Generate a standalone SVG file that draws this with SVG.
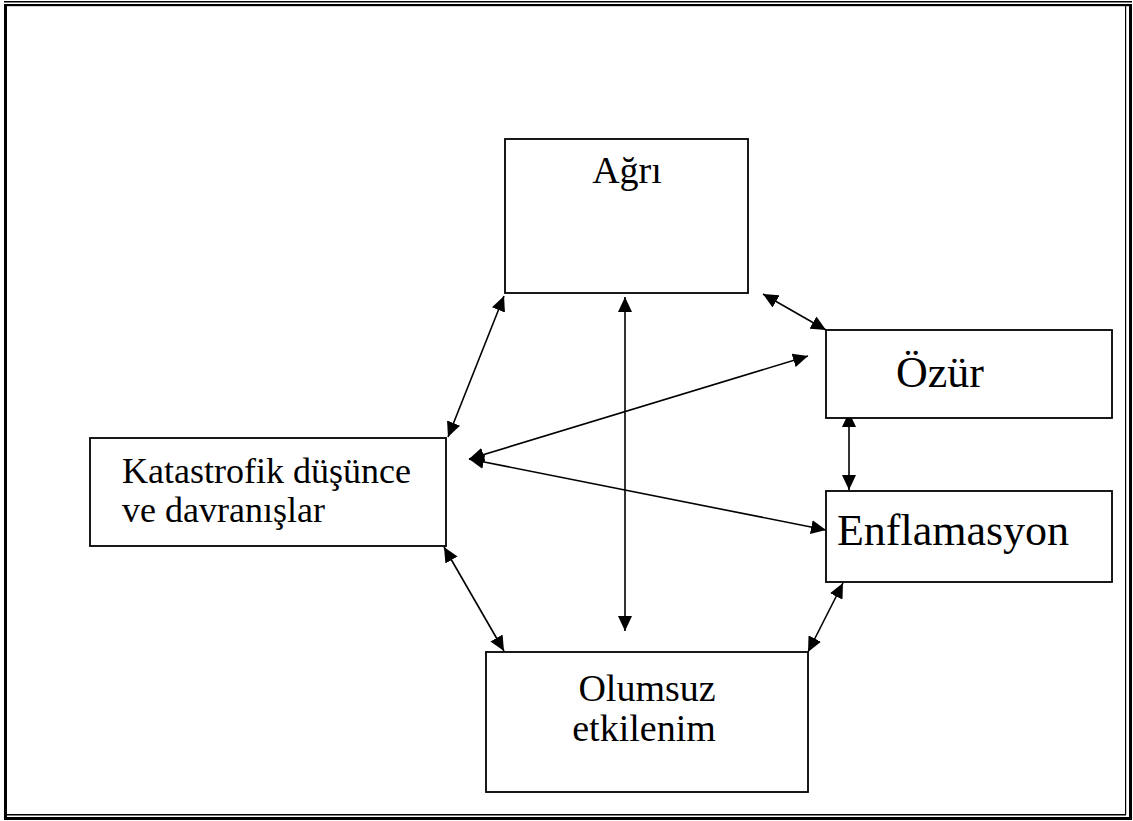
<svg xmlns="http://www.w3.org/2000/svg" width="1133" height="821" viewBox="0 0 1133 821">
<style>
.box{fill:#fff;stroke:#000;stroke-width:1.8}
.t{font-family:"Liberation Serif","Times New Roman",serif;font-size:36px;fill:#000}
.m{font-size:38px}
.l{font-size:44px}
.c{stroke:#000;stroke-width:1.6;fill:none;marker-start:url(#ah);marker-end:url(#ah)}
.fr{fill:#000}
</style>
<defs>
<marker id="ah" viewBox="0 0 15 14" refX="15" refY="7" markerWidth="15" markerHeight="14" markerUnits="userSpaceOnUse" orient="auto-start-reverse">
<path d="M0,0 L15,7 L0,14 z" fill="#000"/>
</marker>
</defs>
<rect width="1133" height="821" fill="#fff"/>
<g id="frame">
<rect class="fr" x="4" y="1" width="1128" height="1.5"/>
<rect class="fr" x="4" y="4" width="1125" height="2.2"/>
<rect class="fr" x="4" y="4" width="3" height="816"/>
<rect class="fr" x="1125" y="6" width="1.2" height="809"/>
<rect class="fr" x="1129" y="4" width="3" height="816"/>
<rect class="fr" x="6" y="814" width="1120" height="1.5"/>
<rect class="fr" x="4" y="817" width="1128" height="3"/>
</g>
<g id="connectors">
<line class="c" x1="504" y1="296" x2="448" y2="437"/>
<line class="c" x1="625" y1="297" x2="625" y2="631"/>
<line class="c" x1="763" y1="294" x2="826" y2="330"/>
<line class="c" x1="469" y1="459" x2="808" y2="356"/>
<line class="c" x1="469" y1="459" x2="826" y2="530"/>
<line class="c" x1="849" y1="412" x2="849" y2="490"/>
<line class="c" x1="843" y1="583" x2="808" y2="652"/>
<line class="c" x1="444" y1="547" x2="504" y2="651"/>
</g>
<g id="agri">
<rect class="box" x="505" y="139" width="243" height="154"/>
<text class="t m" x="627" y="183" text-anchor="middle">Ağrı</text>
</g>
<g id="ozur">
<rect class="box" x="826" y="330" width="286" height="88"/>
<text class="t l" x="940" y="387" text-anchor="middle">Özür</text>
</g>
<g id="enflamasyon">
<rect class="box" x="826" y="491" width="286" height="91"/>
<text class="t l" x="953" y="545" text-anchor="middle">Enflamasyon</text>
</g>
<g id="katastrofik">
<rect class="box" x="90" y="438" width="356" height="108"/>
<text class="t" x="122" y="483">Katastrofik düşünce</text>
<text class="t" x="122" y="522">ve davranışlar</text>
</g>
<g id="olumsuz">
<rect class="box" x="486" y="652" width="322" height="140"/>
<text class="t m" x="647" y="701" text-anchor="middle">Olumsuz</text>
<text class="t m" x="644" y="741" text-anchor="middle">etkilenim</text>
</g>
</svg>
